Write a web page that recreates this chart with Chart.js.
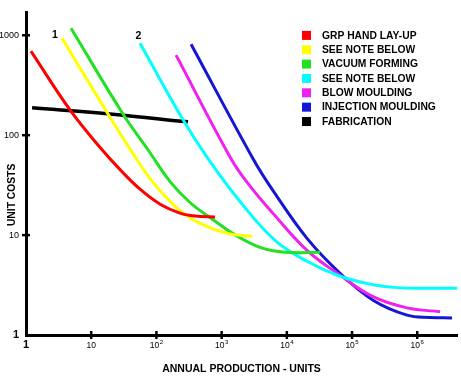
<!DOCTYPE html>
<html><head><meta charset="utf-8">
<script src="https://cdn.jsdelivr.net/npm/chart.js@4.4.0/dist/chart.umd.min.js"></script>
<style>html,body{margin:0;padding:0;background:#fff;}canvas{display:block;}</style>
</head><body>
<canvas id="c" width="461" height="378"></canvas>
<script>
// ---- data ----
const seriesLabels = ['GRP HAND LAY-UP','SEE NOTE BELOW','VACUUM FORMING','SEE NOTE BELOW','BLOW MOULDING','INJECTION MOULDING','FABRICATION'];
const seriesColors = ['#ff0000','#ffff00','#22e022','#00ffff','#f020f0','#1515d5','#000000'];

const grpX = [1.19, 4.73, 13.6, 27.7, 56.0, 114, 230, 391, 792];
const grpY = [695, 179, 75.7, 45.2, 28.8, 20.4, 16.6, 15.5, 15.2];

const note1X = [3.57, 18.1, 43.8, 79.8, 135.5, 230, 466, 1211, 2927];
const note1Y = [935, 163, 65.3, 36.8, 24.6, 17.6, 13.1, 10.4, 9.7];

const vacuumX = [4.90, 30.7, 74.3, 162, 327, 664, 1606, 3879, 9380, 32300];
const vacuumY = [1177, 163, 71.5, 34.3, 21.2, 15.0, 10.05, 7.54, 6.73, 6.73];

const note2X = [56.0, 256, 618, 1915, 6590, 20400, 65500, 210000, 490000, 1570000, 4070000];
const note2Y = [834, 142.5, 58.2, 21.7, 8.85, 5.47, 3.87, 3.19, 2.98, 2.94, 2.94];

const blowX = [200, 1393, 2729, 6140, 20400, 65500, 210000, 698000, 2240000];
const blowY = [633, 58.2, 30.9, 16.5, 7.04, 3.97, 2.42, 1.87, 1.71];

const injectionX = [340, 3030, 6140, 20400, 65500, 210000, 698000, 1570000, 3420000];
const injectionY = [815, 58.2, 27.9, 9.27, 4.15, 2.23, 1.58, 1.50, 1.48];

const fabricationX = [1.24, 19.4, 305];
const fabricationY = [188, 163, 136];

const xTickValues = [1, 10, 100, 1000, 10000, 100000, 1000000];
const xTickBase = ['1', '10', '10', '10', '10', '10', '10'];
const xTickExp = ['', '', '2', '3', '4', '5', '6'];
const yTickValues = [1, 10, 100, 1000];
const yTickLabels = ['1', '10', '100', '1000'];

const xTitle = 'ANNUAL PRODUCTION - UNITS';
const yTitle = 'UNIT COSTS';
const noteLabels = ['1', '2']; // attached to series 1 and 3

// ---- chart ----
const FONT = '"Liberation Sans", Arial, sans-serif';
const seriesX = [grpX, note1X, vacuumX, note2X, blowX, injectionX, fabricationX];
const seriesY = [grpY, note1Y, vacuumY, note2Y, blowY, injectionY, fabricationY];

const datasets = seriesX.map((xs, i) => ({
  label: seriesLabels[i],
  data: xs.map((v, j) => ({x: v, y: seriesY[i][j]})),
  borderColor: seriesColors[i],
  backgroundColor: seriesColors[i],
  borderWidth: i === 6 ? 3.5 : 3,
  pointRadius: 0,
  fill: false,
  tension: 0.4
}));

const decor = {
  id: 'decor',
  afterDraw(chart) {
    const {ctx, chartArea: ca} = chart;
    const x = chart.scales.x, y = chart.scales.y;
    ctx.save();
    ctx.fillStyle = '#000';
    ctx.strokeStyle = '#000';
    ctx.lineWidth = 2.5;
    // tick marks crossing the axes
    x.ticks.forEach(t => {
      if (t.value === 1) return;
      const px = x.getPixelForValue(t.value);
      ctx.beginPath(); ctx.moveTo(px, ca.bottom - 4); ctx.lineTo(px, ca.bottom + 4); ctx.stroke();
    });
    y.ticks.forEach(t => {
      if (t.value === 1) return;
      const py = y.getPixelForValue(t.value);
      ctx.beginPath(); ctx.moveTo(ca.left - 4, py); ctx.lineTo(ca.left + 4, py); ctx.stroke();
    });
    // x tick labels with superscript exponents
    ctx.textAlign = 'left';
    ctx.textBaseline = 'alphabetic';
    xTickValues.forEach((v, i) => {
      const px = x.getPixelForValue(v);
      const bold = v === 1;
      const baseFont = bold ? `bold 11px ${FONT}` : `8.5px ${FONT}`;
      const expFont = `6px ${FONT}`;
      ctx.font = baseFont;
      const bw = ctx.measureText(xTickBase[i]).width;
      let ew = 0;
      if (xTickExp[i]) { ctx.font = expFont; ew = ctx.measureText(xTickExp[i]).width + 0.5; }
      const start = px - (bw + ew) / 2;
      ctx.font = baseFont;
      ctx.fillText(xTickBase[i], start, ca.bottom + 12.5);
      if (xTickExp[i]) { ctx.font = expFont; ctx.fillText(xTickExp[i], start + bw + 0.5, ca.bottom + 8.5); }
    });
    // y axis title
    ctx.save();
    ctx.translate(ca.left - 14, ca.top + 182.5);
    ctx.rotate(-Math.PI / 2);
    ctx.textAlign = 'center';
    ctx.textBaseline = 'middle';
    ctx.font = `bold 10.3px ${FONT}`;
    ctx.fillText(yTitle, 0, 0);
    ctx.restore();
    // legend
    ctx.font = `bold 10.3px ${FONT}`;
    ctx.textAlign = 'left';
    ctx.textBaseline = 'middle';
    chart.data.datasets.forEach((ds, i) => {
      const ry = ca.top + 23 + i * 14.35;
      ctx.fillStyle = ds.borderColor;
      ctx.fillRect(ca.left + 276, ry - 4.5, 9, 9);
      ctx.fillStyle = '#000';
      ctx.fillText(ds.label, ca.left + 296, ry + 0.5);
    });
    // note labels "1" and "2" near the start of their curves
    ctx.font = `bold 10.5px ${FONT}`;
    ctx.textAlign = 'center';
    const offs = [[-7, -3.5], [-1.5, -7.5]];
    [1, 3].forEach((di, k) => {
      const p = chart.getDatasetMeta(di).data[0];
      ctx.fillText(noteLabels[k], p.x + offs[k][0], p.y + offs[k][1]);
    });
    ctx.restore();
  }
};

new Chart(document.getElementById('c'), {
  type: 'line',
  data: {datasets},
  options: {
    responsive: false,
    devicePixelRatio: 1,
    animation: false,
    layout: {padding: {top: 11, right: 4, left: 0, bottom: 0}},
    plugins: {legend: {display: false}, tooltip: {enabled: false}},
    scales: {
      x: {
        type: 'logarithmic', position: 'bottom', min: 1, max: 4070000,
        afterBuildTicks: s => { s.ticks = xTickValues.map(v => ({value: v})); },
        afterFit: s => { s.height = 43; },
        grid: {display: true, drawOnChartArea: false, drawTicks: false, color: 'rgba(0,0,0,0)'},
        border: {display: true, color: '#000', width: 3},
        ticks: {display: false},
        title: {display: true, text: xTitle, color: '#000', font: {family: FONT, size: 10.5, weight: 'bold'}, padding: {top: 0, bottom: 3}}
      },
      y: {
        type: 'logarithmic', position: 'left', min: 1, max: 1695,
        afterBuildTicks: s => { s.ticks = yTickValues.map(v => ({value: v})); },
        afterFit: s => { s.width = 26; },
        grid: {display: true, drawOnChartArea: false, drawTicks: false, color: 'rgba(0,0,0,0)'},
        border: {display: true, color: '#000', width: 3},
        ticks: {
          color: '#000', padding: 7, autoSkip: false,
          font: c => (c.tick && c.tick.value === 1) ? {family: FONT, size: 11, weight: 'bold'} : {family: FONT, size: 9},
          callback: v => yTickLabels[yTickValues.indexOf(v)]
        }
      }
    }
  },
  plugins: [decor]
});
</script>
</body></html>
